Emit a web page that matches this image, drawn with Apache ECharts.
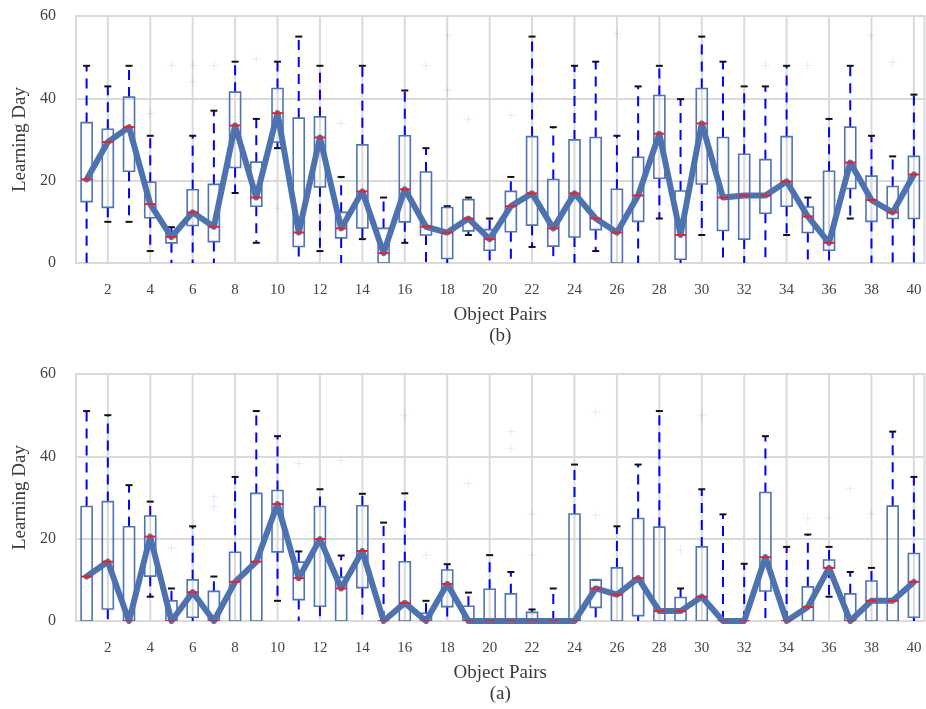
<!DOCTYPE html>
<html>
<head>
<meta charset="utf-8">
<script src="https://cdn.jsdelivr.net/npm/echarts@6/dist/echarts.min.js"></script>
<style>
  html, body { margin: 0; padding: 0; background: #ffffff; }
  #chart { width: 926px; height: 709px; }
</style>
</head>
<body>
<div id="chart"></div>
<script>
// Object pair ids on the category axis
const pairs = ['1','2','3','4','5','6','7','8','9','10','11','12','13','14','15','16','17','18','19','20',
               '21','22','23','24','25','26','27','28','29','30','31','32','33','34','35','36','37','38','39','40'];

// Panel (b): lower whisker, Q1, median, Q3, upper whisker (learning day)
const bLow  = [0, 10, 10, 2.9, 0, 0, 0, 17, 4.9, 27.9, 0, 2.9, 0, 5.8, 0, 4.9, 0, 0, 6.8, 0,
               0, 3.9, 0, 0, 2.9, 0, 0, 10.8, 0, 6.8, 0, 0, 0, 6.8, 0, 0, 10.8, 0, 0, 0];
const bQ1   = [14.9, 13.5, 22.3, 11, 4.9, 9.1, 5.2, 23.2, 13.8, 29.4, 4, 18.5, 6.1, 8.5, 0, 10, 6.8, 1.1, 7.8, 3.1,
               7.6, 9.2, 4.1, 6.3, 8.1, 0, 10.1, 20.6, 0.9, 19.2, 7.9, 5.8, 12.1, 13.8, 7.4, 3.1, 18.1, 10.1, 10.8, 10.8];
const bMed  = [20.3, 29.4, 33.0, 14.3, 6.3, 12.3, 8.8, 33.4, 15.9, 36.4, 7.4, 30.5, 8.4, 17.4, 2.4, 17.9, 8.8, 7.4, 10.8, 5.8,
               13.8, 16.9, 8.4, 16.9, 10.8, 7.4, 16.4, 31.4, 6.8, 33.9, 15.9, 16.4, 16.4, 19.8, 11.3, 4.9, 24.4, 15.3, 12.3, 21.5];
const bQ3   = [34.1, 32.5, 40.3, 19.6, 7.4, 17.8, 19.1, 41.5, 24.5, 42.4, 35.2, 35.5, 12.3, 28.7, 8.4, 30.9, 22.1, 13.5, 15.4, 8.1,
               17.4, 30.7, 20.3, 29.9, 30.5, 17.9, 25.7, 40.7, 17.5, 42.4, 30.5, 26.4, 25.1, 30.7, 13.6, 22.3, 33, 21.1, 18.6, 25.9];
const bHigh = [47.9, 42.9, 47.9, 30.9, 8.7, 30.9, 37, 48.9, 35, 48.9, 55, 47.9, 20.9, 47.9, 15.9, 41.9, 27.9, 13.8, 15.9, 10.8,
               20.9, 55, 33, 47.9, 48.9, 30.9, 42.9, 47.9, 39.8, 55, 48.9, 42.9, 42.9, 47.9, 15.9, 35, 47.9, 30.9, 25.9, 40.9];
// Panel (b): outliers as [pair, day]
const bOutliers = [[4, 36.3], [5, 48], [6, 48], [6, 44], [7, 48], [9, 49.6], [10, 13.3], [13, 33.9], [17, 48], [18, 55.3],
                   [18, 42], [19, 35], [21, 35.9], [26, 55.7], [33, 48], [35, 48], [38, 55.3], [39, 48.8]];

// Panel (a): lower whisker, Q1, median, Q3, upper whisker (learning day)
const aLow  = [0, 0, 0, 5.9, 0, 0, 0, 0, 0, 4.9, 0, 0, 0, 0, 0, 0, 0, 0, 0, 0,
               0, 0, 0, 0, 0, 0, 0, 0, 0, 0, 0, 0, 0, 0, 0, 5.9, 0, 0, 0, 0];
const aQ1   = [0, 2.9, 0, 10.9, 0, 0.9, 0, 0, 0, 16.8, 5.2, 3.6, 0, 8.1, 0, 0, 0, 3.5, 0, 0,
               0, 0, 0, 0, 3.3, 0, 1.3, 0, 0, 0, 0, 0, 7.3, 0, 0, 12.9, 0, 0, 0, 0.9];
const aMed  = [10.8, 14.4, 0, 20.5, 0, 7, 0, 9.5, 14.4, 28.4, 10.4, 19.9, 7.9, 17, 0, 4.4, 0, 9.0, 0, 0,
               0, 0, 0, 0, 7.9, 6.4, 10.4, 2.4, 2.4, 5.9, 0, 0, 15.5, 0, 3.4, 12.9, 0, 4.9, 4.9, 9.5];
const aQ3   = [27.8, 29, 22.9, 25.5, 4.9, 10, 7.2, 16.7, 31, 31.7, 14.3, 27.8, 10.6, 28, 0, 14.4, 1.9, 12.4, 3.6, 7.7,
               6.6, 2.1, 0, 26, 10, 12.9, 24.9, 22.8, 5.7, 18, 0, 0, 31.2, 0, 8.3, 14.8, 6.6, 9.7, 27.9, 16.4];
const aHigh = [51, 50, 33, 29, 7.9, 23, 10.8, 35, 51, 44.9, 16.9, 32, 15.9, 30.9, 23.9, 31, 4.9, 13.8, 6.9, 16,
               11.9, 2.8, 7.9, 38, 10, 23, 38, 51, 7.9, 32, 25.9, 13.9, 44.9, 18, 21, 18, 11.9, 12.9, 46, 35];
// Panel (a): outliers as [pair, day]
const aOutliers = [[5, 17.7], [7, 30.2], [7, 27.8], [11, 38.3], [13, 39], [16, 50], [17, 16], [19, 33.4], [21, 46], [21, 42],
                   [22, 26], [22, 16], [25, 50.8], [25, 25.7], [29, 17.2], [30, 50], [35, 25], [36, 25], [37, 32.2], [38, 26]];

// Tick values for the day axis
const dayTicks = [0, 20, 40, 60];

const GRID_COLOR = '#dadada';
const BOX_COLOR = '#4f74b3';
const LINE_COLOR = '#4c72b0';
const FONT = '"Liberation Serif", "DejaVu Serif", serif';

function boxRows(low, q1, med, q3, high) {
  return pairs.map((p, i) => [i, low[i], q1[i], med[i], q3[i], high[i]]);
}

// Whiskers, caps and the box outline of one box plot
function renderBox(params, api) {
  const idx = api.value(0);
  const lo = api.value(1), q1 = api.value(2), q3 = api.value(4), hi = api.value(5);
  const pt = v => api.coord([idx, v]);
  const cx = pt(q1)[0];
  const half = 5.5, capHalf = 3.5;
  const yLo = pt(lo)[1], yQ1 = pt(q1)[1], yQ3 = pt(q3)[1], yHi = pt(hi)[1];
  const dash = { stroke: '#0000ff', lineWidth: 2, lineDash: [10, 7], fill: null };
  const cap = { stroke: '#111111', lineWidth: 2 };
  const children = [];
  if (hi > q3) children.push({ type: 'line', shape: { x1: cx, y1: yQ3, x2: cx, y2: yHi }, style: dash });
  if (q1 > lo) children.push({ type: 'line', shape: { x1: cx, y1: yQ1, x2: cx, y2: yLo }, style: dash });
  if (hi > 0) children.push({ type: 'line', shape: { x1: cx - capHalf, y1: yHi, x2: cx + capHalf, y2: yHi }, style: cap });
  if (lo > 0) children.push({ type: 'line', shape: { x1: cx - capHalf, y1: yLo, x2: cx + capHalf, y2: yLo }, style: cap });
  if (q3 > q1) {
    children.push({
      type: 'rect',
      shape: { x: cx - half, y: yQ3, width: half * 2, height: yQ1 - yQ3 },
      style: { stroke: BOX_COLOR, lineWidth: 1.6, fill: null }
    });
  }
  return { type: 'group', children };
}

// Red median bar
function renderMedian(params, api) {
  const idx = api.value(0);
  const p = api.coord([idx, api.value(3)]);
  return {
    type: 'line',
    shape: { x1: p[0] - 5.5, y1: p[1], x2: p[0] + 5.5, y2: p[1] },
    style: { stroke: '#ff1a1a', lineWidth: 2 }
  };
}

// Vertical grid lines at the labelled (even) pairs
function renderVGrid(params, api) {
  const idx = api.value(0);
  const cs = params.coordSys;
  const x = api.coord([idx, 0])[0];
  return {
    type: 'line',
    shape: { x1: x, y1: cs.y, x2: x, y2: cs.y + cs.height },
    style: { stroke: GRID_COLOR, lineWidth: 2 }
  };
}

// Faint outlier crosses
function renderOutlier(params, api) {
  const p = api.coord([api.value(0), api.value(1)]);
  const s = 4.5;
  const st = { stroke: 'rgba(80,100,230,0.13)', lineWidth: 1 };
  return {
    type: 'group',
    children: [
      { type: 'line', shape: { x1: p[0] - s, y1: p[1], x2: p[0] + s, y2: p[1] }, style: st },
      { type: 'line', shape: { x1: p[0], y1: p[1] - s, x2: p[0], y2: p[1] + s }, style: st }
    ]
  };
}

const evenRows = pairs.map((p, i) => [i]).filter(r => r[0] % 2 === 1);

function panelSeries(gi, low, q1, med, q3, high, outliers) {
  const rows = boxRows(low, q1, med, q3, high);
  return [
    { type: 'custom', xAxisIndex: gi, yAxisIndex: gi, z: 1, silent: true, clip: true,
      renderItem: renderVGrid, data: evenRows, encode: { x: 0 } },
    { type: 'custom', xAxisIndex: gi, yAxisIndex: gi, z: 2, silent: true, clip: true,
      renderItem: renderOutlier, data: outliers.map(o => [o[0] - 1, o[1]]), encode: { x: 0, y: 1 } },
    { type: 'custom', xAxisIndex: gi, yAxisIndex: gi, z: 3, silent: true, clip: true,
      renderItem: renderBox, data: rows, encode: { x: 0, y: [1, 2, 3, 4, 5] } },
    { type: 'line', xAxisIndex: gi, yAxisIndex: gi, z: 4, silent: true, data: med,
      symbol: 'none', lineStyle: { color: LINE_COLOR, width: 6, join: 'round', cap: 'round' } },
    { type: 'custom', xAxisIndex: gi, yAxisIndex: gi, z: 5, silent: true, clip: true,
      renderItem: renderMedian, data: rows, encode: { x: 0, y: 3 } }
  ];
}

function xAxisFor(gi, caption) {
  return {
    type: 'category', gridIndex: gi, data: pairs, boundaryGap: true,
    axisLine: { show: true, lineStyle: { color: GRID_COLOR, width: 2 } },
    axisTick: { show: false },
    axisLabel: { interval: (i) => i % 2 === 1, margin: 20, fontFamily: FONT, fontSize: 15, color: '#444' },
    splitLine: { show: false },
    name: 'Object Pairs\n' + caption, nameLocation: 'middle', nameGap: 42,
    nameTextStyle: { fontFamily: FONT, fontSize: 19, color: '#3a3a3a', lineHeight: 21 }
  };
}

function yAxisFor(gi) {
  return {
    type: 'value', gridIndex: gi, min: dayTicks[0], max: dayTicks[dayTicks.length - 1],
    interval: dayTicks[1] - dayTicks[0],
    axisLine: { show: true, lineStyle: { color: GRID_COLOR, width: 2 } },
    axisTick: { show: false },
    axisLabel: { margin: 20, fontFamily: FONT, fontSize: 16, color: '#444' },
    splitLine: { show: true, lineStyle: { color: GRID_COLOR, width: 2 } },
    name: 'Learning Day', nameLocation: 'middle', nameGap: 43,
    nameTextStyle: { fontFamily: FONT, fontSize: 19, color: '#3a3a3a' }
  };
}

const chart = echarts.init(document.getElementById('chart'), null, { renderer: 'canvas' });
chart.setOption({
  backgroundColor: '#ffffff',
  animation: false,
  grid: [
    { left: 76, top: 16, width: 848.5, height: 247, show: true, borderColor: GRID_COLOR, borderWidth: 2 },
    { left: 76, top: 374, width: 848.5, height: 247, show: true, borderColor: GRID_COLOR, borderWidth: 2 }
  ],
  xAxis: [xAxisFor(0, '(b)'), xAxisFor(1, '(a)')],
  yAxis: [yAxisFor(0), yAxisFor(1)],
  series: [
    ...panelSeries(0, bLow, bQ1, bMed, bQ3, bHigh, bOutliers),
    ...panelSeries(1, aLow, aQ1, aMed, aQ3, aHigh, aOutliers)
  ]
});
</script>
</body>
</html>
